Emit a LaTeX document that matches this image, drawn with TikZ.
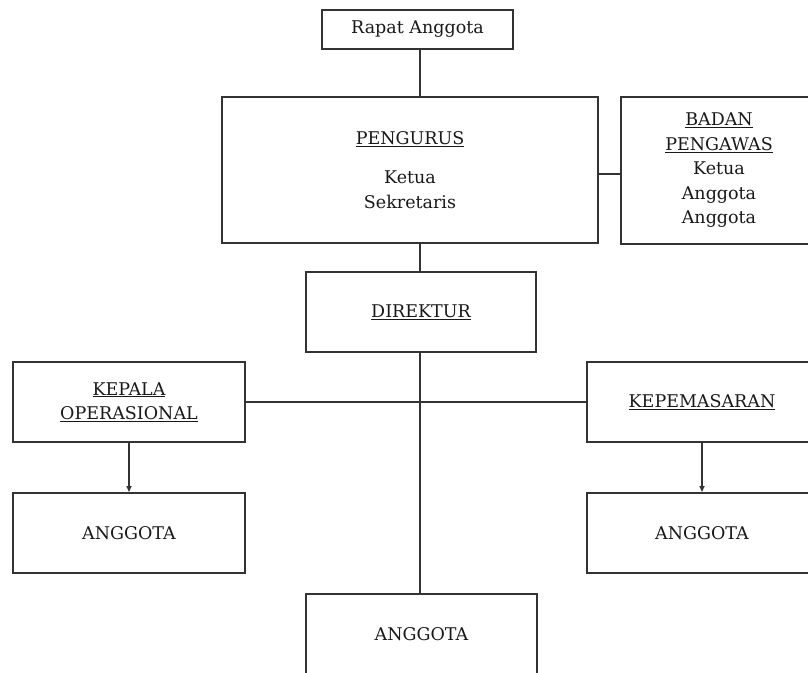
\documentclass[tikz,border=0pt]{standalone}
\usepackage{fontspec}
\setmainfont{DejaVu Serif}
\usetikzlibrary{arrows.meta}
\newcommand{\ul}[1]{\underline{#1}}

\begin{document}
\begin{tikzpicture}[x=1pt,y=-1pt]

      \useasboundingbox (0,0) rectangle (808,672);
      \clip (0,0) rectangle (808,672);
      \coordinate (spine) at (420,0);

      \begin{scope}[every node/.style={draw=black!80,line width=1.9pt,text=black!90,
          font=\fontsize{17.5}{24.5}\selectfont,align=center,inner sep=0pt}]
        \node[minimum width=191,minimum height=39] (rapat)      at (417.5,29.5) {Rapat Anggota};
        \node[minimum width=376,minimum height=146] (pengurus)  at (410,170)    {\ul{PENGURUS}\\[15pt] Ketua\\ Sekretaris};
        \node[minimum width=196,minimum height=147] (pengawas)  at (719,170.5)  {\ul{BADAN}\\ \ul{PENGAWAS}\\ Ketua\\ Anggota\\ Anggota};
        \node[minimum width=230,minimum height=80] (direktur)   at (421,312)    {\ul{DIREKTUR}};
        \node[minimum width=232,minimum height=80] (kepala)     at (129,402)    {\ul{KEPALA}\\ \ul{OPERASIONAL}};
        \node[minimum width=230,minimum height=80] (pemasaran)  at (702,402)    {\ul{KEPEMASARAN}};
        \node[minimum width=232,minimum height=80] (anggota1)   at (129,533)    {ANGGOTA};
        \node[minimum width=230,minimum height=80] (anggota2)   at (702,533)    {ANGGOTA};
        \node[minimum width=231,minimum height=80] (anggota3)   at (421.5,634)  {ANGGOTA};
      \end{scope}

      \begin{scope}[draw=black!80,line width=1.5pt]
        \draw (rapat.south -| spine) -- (pengurus.north -| spine);
        \draw (pengurus.south -| spine) -- (direktur.north -| spine);
        \draw (direktur.south -| spine) -- (anggota3.north -| spine);
        \draw ([yshift=-4pt]pengurus.east) -- ([yshift=-4pt]pengurus.east -| pengawas.west);
        \draw (kepala.east) -- (pemasaran.west);

        \begin{scope}[every edge/.style={draw,-{Triangle[length=6pt,width=5pt]}}]
          \path (kepala)    edge (anggota1);
          \path (pemasaran) edge (anggota2);
        \end{scope}
      \end{scope}

\end{tikzpicture}
\end{document}
